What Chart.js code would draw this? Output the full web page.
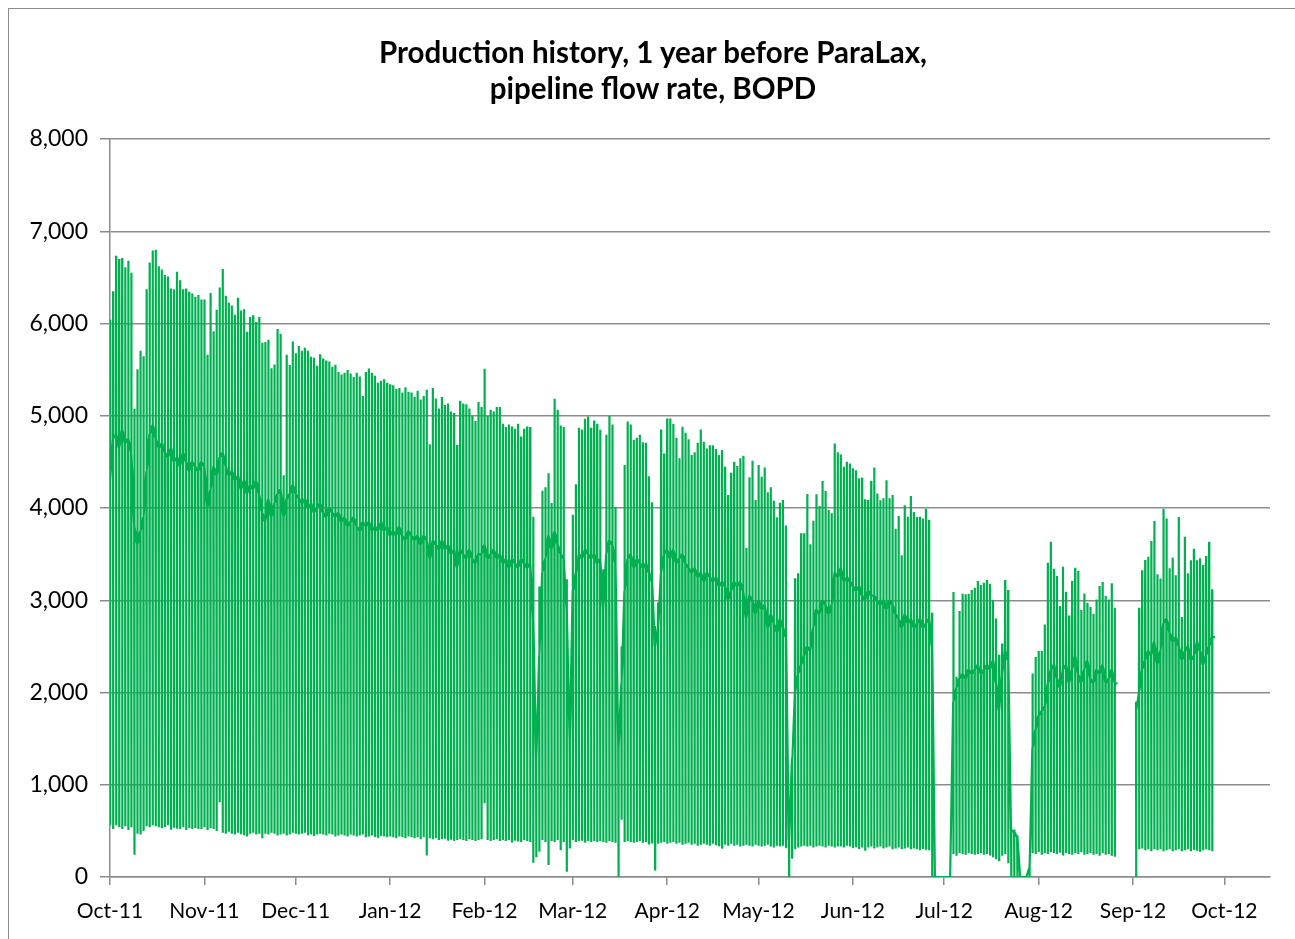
<!DOCTYPE html>
<html>
<head>
<meta charset="utf-8">
<title>Production history</title>
<script src="https://cdn.jsdelivr.net/npm/chart.js@4.4.0/dist/chart.umd.min.js"></script>
<style>
  html, body { margin: 0; padding: 0; background: #fff; overflow: hidden; }
  .wrap { position: absolute; left: 0; top: 0; width: 1295px; height: 939px; }
  .frame { position: absolute; left: 8px; top: 8px; width: 1400px; height: 1000px; border: 1px solid #8c8c8c; pointer-events: none; }
  .title { position: absolute; left: 0; top: 34px; width: 1306px; text-align: center; font-family: Lato, "Noto Sans", sans-serif; font-weight: bold; font-size: 29.5px; line-height: 36px; color: #000; }
</style>
</head>
<body>
<div class="wrap"><canvas id="myChart"></canvas></div>
<div class="frame"></div>
<div class="title">Production history, 1 year before ParaLax,<br>pipeline flow rate, BOPD</div>
<script>
// x values are days since 1 Oct 2011
const monthStarts = [0, 31, 61, 92, 123, 152, 183, 213, 244, 274, 305, 336, 366];
const monthLabels = ['Oct-11', 'Nov-11', 'Dec-11', 'Jan-12', 'Feb-12', 'Mar-12', 'Apr-12', 'May-12', 'Jun-12', 'Jul-12', 'Aug-12', 'Sep-12', 'Oct-12'];
const yTicks = [0, 1000, 2000, 3000, 4000, 5000, 6000, 7000, 8000];

// daily peak of the flow cycle, BOPD
const highs = [
  6040,6350,6735,6700,6710,6610,6680,6550,5075,5505,
  5705,5645,6370,6660,6790,6800,6620,6585,6525,6510,
  6380,6370,6560,6470,6370,6380,6345,6325,6290,6310,
  6260,6260,5660,6330,5915,6150,6390,6590,6300,6225,
  6195,6095,6280,6140,6155,5910,6070,6090,6015,6070,
  5790,5800,5825,5515,5555,5940,5890,4355,5660,5550,
  5806,5678,5756,5705,5736,5705,5640,5628,5543,5667,
  5620,5600,5589,5531,5554,5473,5446,5465,5496,5457,
  5419,5465,5426,5213,5473,5512,5465,5434,5357,5380,
  5395,5357,5341,5330,5290,5302,5252,5310,5260,5252,
  5202,5272,5175,5213,5283,4690,5302,5186,5078,5202,
  5116,5132,5047,5031,4682,5163,5132,5124,5078,5000,
  4942,5148,5094,5510,4996,5065,5047,5094,5094,4913,
  4877,4906,4884,4858,4913,4775,4858,4884,4877,3906,
  1400,3150,4188,4224,4377,4054,5185,5065,4895,4877,
  3228,1900,3927,4257,4869,4851,4967,4992,4869,4949,
  4913,4848,3337,4793,4996,4906,4007,1634,2500,4467,
  4938,4906,4739,4761,4793,4714,4706,4344,4061,2721,
  2975,4852,4592,4971,4971,4910,4762,4538,4881,4816,
  4744,4574,4603,4707,4852,4718,4646,4679,4679,4639,
  4574,4628,4448,4141,4383,4502,4455,4538,4567,3570,
  4332,4513,4087,4466,4339,4440,4170,4224,4079,3899,
  4058,4087,3809,477,1289,3238,3292,3725,3725,4152,
  3606,3863,4148,4022,4292,4184,3978,3942,4700,4603,
  4581,4448,4502,4482,4431,4409,4322,4330,4094,4087,
  4293,4438,4156,4084,4105,4301,4105,4142,3776,3914,
  3487,4029,3906,4131,3957,3903,3906,3885,3993,3870,
  2865,0,0,0,0,0,0,3089,2170,2883,
  3071,3064,3071,3111,3136,3208,3165,3190,3219,3179,
  2999,2803,2409,2532,3219,3111,532,514,449,0,
  0,0,134,2206,2384,2449,2449,2738,3407,3635,
  3342,3263,2937,3364,3093,2836,3208,3353,3317,2894,
  3074,2973,2926,2854,3009,3154,3197,3046,3009,3183,
  2919,null,null,null,null,null,null,1900,2920,3324,
  3436,3472,3642,3859,3281,3237,3993,3885,3346,3461,
  3270,3903,2818,3689,3292,3433,3559,3433,3454,3382,
  3480,3635,3118
];

// level the flow sits at between peaks
const ridge = [
  4300,4750,4800,4650,4850,4700,4750,4600,3800,3600,
  3750,3900,4400,4800,4900,4750,4650,4700,4600,4550,
  4650,4500,4550,4450,4600,4500,4400,4500,4450,4400,
  4500,4450,4000,4200,4450,4350,4550,4600,4450,4350,
  4400,4300,4350,4200,4300,4150,4250,4200,4300,4150,
  3950,3850,4100,3900,4050,4150,4200,3900,4100,4150,
  4250,4150,4100,4050,4100,4000,4050,3950,4000,4050,
  3950,3900,4000,3950,3900,3950,3850,3900,3800,3850,
  3900,3800,3750,3850,3800,3850,3750,3800,3750,3850,
  3750,3800,3700,3750,3700,3800,3700,3650,3750,3700,
  3650,3700,3600,3700,3650,3450,3650,3600,3550,3650,
  3550,3600,3500,3550,3350,3550,3500,3450,3550,3450,
  3400,3500,3500,3600,3450,3500,3550,3450,3500,3400,
  3450,3350,3450,3400,3350,3450,3400,3350,3400,2800,
  1300,2400,3300,3450,3700,3550,3750,3600,3500,3450,
  2900,1500,3100,3300,3500,3450,3550,3500,3450,3500,
  3400,3450,2900,3500,3650,3600,3400,1400,2100,3100,
  3450,3500,3350,3450,3400,3350,3400,3300,3200,2500,
  2700,3300,3500,3550,3450,3550,3400,3450,3500,3400,
  3350,3300,3350,3250,3300,3200,3300,3250,3200,3250,
  3150,3200,3150,3000,3100,3200,3150,3200,3100,2800,
  3050,3000,2850,3000,2900,2950,2700,2850,2750,2650,
  2800,2700,2600,400,1250,2000,2200,2300,2400,2500,
  2450,2700,2900,2850,3000,2950,2850,2950,3300,3250,
  3350,3200,3250,3200,3150,3100,3150,3050,3000,3100,
  3050,3050,3000,2950,3000,2900,3000,2950,2850,2800,
  2700,2850,2750,2800,2700,2750,2800,2700,2750,2800,
  2500,0,0,0,0,0,0,1900,2050,2150,
  2200,2150,2250,2200,2250,2300,2200,2250,2300,2250,
  2350,2100,1800,2200,2450,2350,500,490,430,0,
  0,0,100,1400,1600,1750,1800,1850,2100,2250,
  2300,2150,2050,2250,2300,2100,2250,2400,2200,2100,
  2250,2350,2150,2100,2250,2200,2300,2100,2150,2250,
  2100,null,null,null,null,null,null,1800,2000,2250,
  2350,2450,2400,2550,2300,2450,2750,2800,2650,2550,
  2600,2500,2350,2450,2500,2350,2400,2550,2450,2300,
  2400,2500,2600
];

// daily minimum of the flow cycle
const lows = [
  560,520,560,540,520,550,510,540,240,470,
  460,500,550,540,560,550,540,530,540,560,
  520,540,530,520,540,510,530,520,530,520,
  520,540,510,530,520,500,810,480,470,490,
  470,460,480,470,460,440,470,480,460,470,
  420,470,460,480,470,450,460,470,450,460,
  480,470,460,470,480,460,470,450,460,470,
  460,450,470,460,440,450,460,450,440,460,
  450,440,450,460,430,440,450,440,430,450,
  440,430,440,430,420,440,430,420,440,430,
  420,430,410,430,232,420,410,420,400,410,
  420,400,410,390,400,410,400,390,410,400,
  390,400,410,800,400,390,400,410,390,400,
  390,400,380,400,390,380,400,390,380,155,
  214,275,400,380,130,390,380,400,290,380,
  58,310,400,380,390,400,380,390,380,390,
  380,390,380,370,390,380,370,0,620,380,
  390,380,370,380,390,370,380,360,370,76,
  360,370,380,360,370,380,360,370,350,360,
  370,350,360,340,350,360,350,340,360,350,
  340,314,350,340,360,340,350,330,340,350,
  340,330,350,340,330,340,350,330,320,340,
  330,340,320,0,205,300,320,330,340,330,
  340,320,330,340,330,320,340,330,320,330,
  330,320,340,330,320,330,310,320,285,320,
  330,310,320,330,310,320,330,300,310,320,
  300,310,320,300,310,300,290,310,300,290,
  0,0,0,0,0,0,0,250,230,260,
  250,240,260,250,240,250,260,240,250,240,
  220,200,170,230,250,150,0,0,0,0,
  0,0,0,260,250,270,240,260,250,270,
  260,250,270,240,260,250,240,260,250,270,
  240,250,260,240,250,230,260,240,250,230,
  220,null,null,null,null,null,null,0,300,310,
  290,300,280,300,290,300,280,290,300,280,
  290,300,280,290,300,280,300,290,280,290,
  300,290,280
];

const ctx = document.getElementById('myChart');
const gridGray = '#8c8c8c';
const fontFamily = 'Lato, "Noto Sans", sans-serif';
// order of readings in a day: peak, trough, ridge, then the ridge drifts toward the next day's level
const dayShape = [0, 0.04, 0.08, 0.94];

function buildPoints() {
  const pts = [];
  highs.forEach((h, d) => {
    const next = (ridge[d + 1] == null || ridge[d] == null) ? ridge[d] : ridge[d + 1];
    const vals = [h, lows[d], ridge[d], next];
    dayShape.forEach((off, k) => {
      pts.push({ x: d + off, y: vals[k] });
    });
  });
  return pts;
}

function chart() {
  return new Chart(ctx, {
    type: 'line',
    data: {
      datasets: [{
        label: 'Pipeline flow rate',
        data: buildPoints(),
        borderColor: '#00b050',
        borderWidth: 2.2,
        borderJoinStyle: 'bevel',
        pointRadius: 0,
        tension: 0,
        spanGaps: false,
        fill: false
      }]
    },
    options: {
      responsive: true,
      maintainAspectRatio: false,
      animation: false,
      events: [],
      layout: { padding: { left: 0, right: 25, top: 139, bottom: 0 } },
      plugins: {
        legend: { display: false },
        tooltip: { enabled: false },
        title: { display: false }
      },
      scales: {
        x: {
          type: 'linear',
          min: 0,
          max: 381,
          afterBuildTicks: (s) => { s.ticks = monthStarts.map(v => ({ value: v })); },
          afterFit: (s) => { s.height = 62; },
          ticks: {
            autoSkip: false,
            maxRotation: 0,
            padding: 14,
            color: '#000',
            font: { family: fontFamily, size: 21 },
            callback: (v, i) => monthLabels[i]
          },
          grid: { drawOnChartArea: false, tickLength: 8, color: gridGray, lineWidth: 1.5 },
          border: { color: gridGray, width: 1.5 }
        },
        y: {
          min: 0,
          max: 8000,
          afterBuildTicks: (s) => { s.ticks = yTicks.map(v => ({ value: v })); },
          afterFit: (s) => { s.width = 110; },
          ticks: {
            padding: 12,
            color: '#000',
            font: { family: fontFamily, size: 23 },
            callback: (v) => v.toLocaleString('en-US')
          },
          grid: { tickLength: 10, color: gridGray, lineWidth: 1.5 },
          border: { color: gridGray, width: 1.5 }
        }
      }
    }
  });
}

document.addEventListener('DOMContentLoaded', () => {
  chart();
});
</script>
</body>
</html>
